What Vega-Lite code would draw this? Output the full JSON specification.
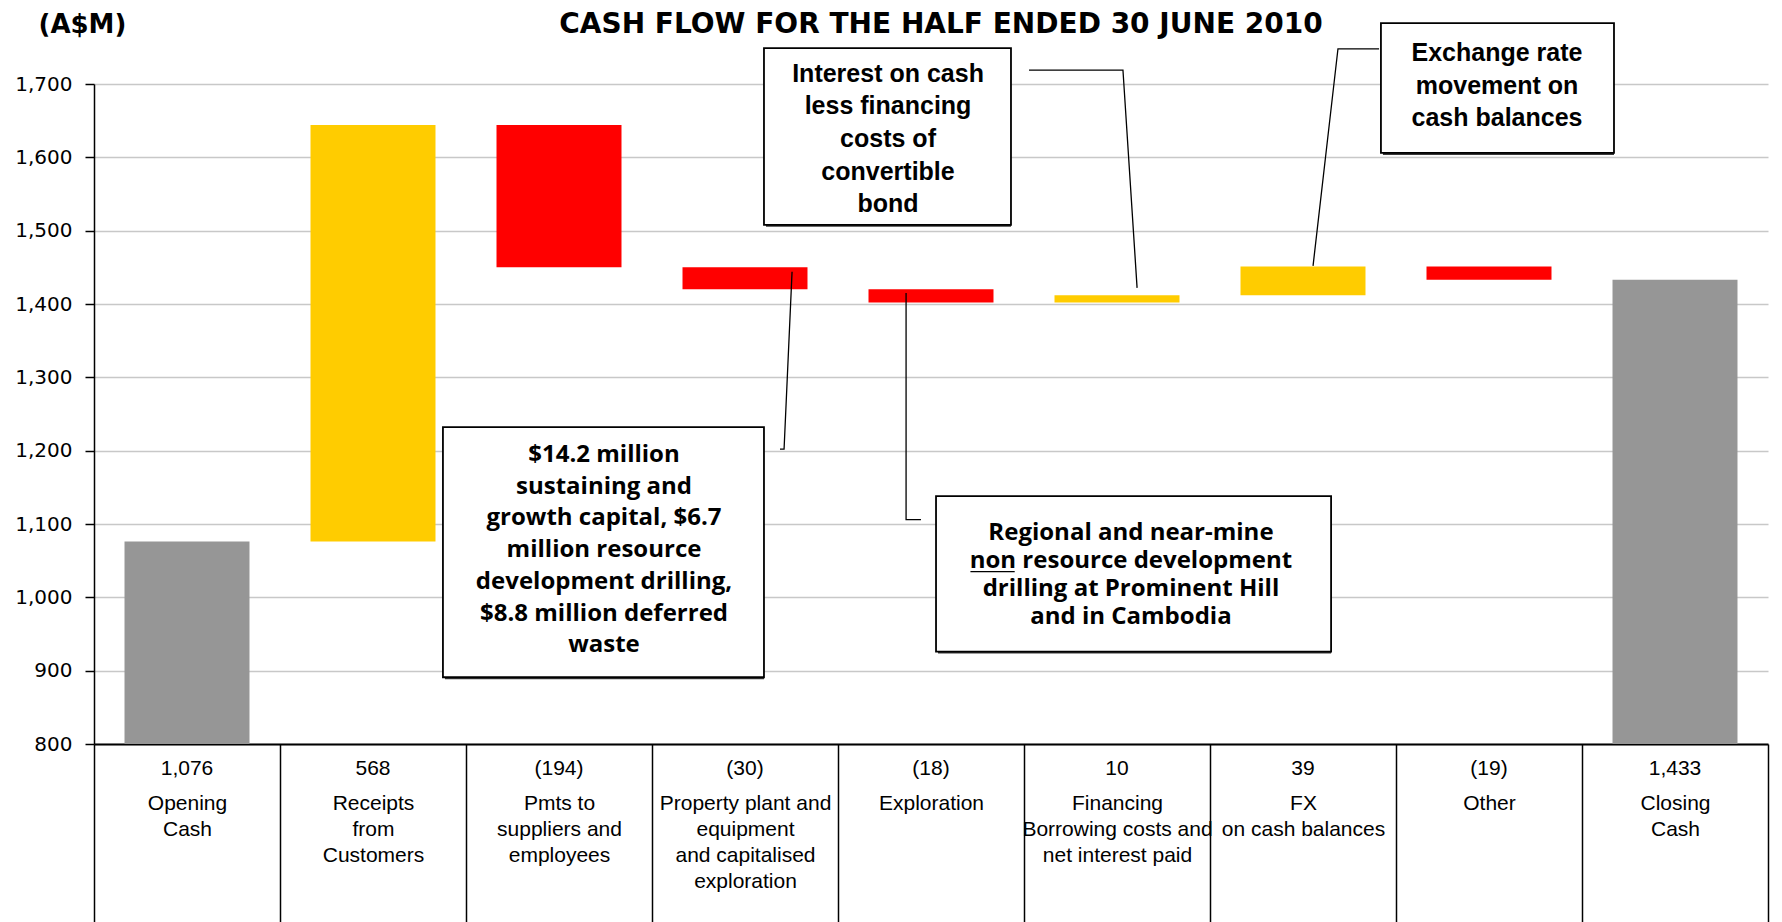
{
  "$schema": "https://vega.github.io/schema/vega-lite/v6.json",
  "width": 1674,
  "height": 660,
  "autosize": {"type": "none"},
  "padding": {"left": 94, "top": 84, "right": 14, "bottom": 178},
  "background": "white",
  "config": {"view": {"stroke": null}, "font": "Liberation Sans"},
  "title": {
    "text": "CASH FLOW FOR THE HALF ENDED 30 JUNE 2010",
    "font": "DejaVu Sans", "fontSize": 28, "fontWeight": "bold", "color": "black",
    "anchor": "middle", "frame": "group", "offset": -28, "dx": 10
  },
  "datasets": {
    "flows": [
      {"cat": "Opening\nCash", "start": 0, "end": 1076, "kind": "total", "shown": "1,076"},
      {"cat": "Receipts\nfrom\nCustomers", "start": 1076, "end": 1644, "kind": "increase", "shown": "568"},
      {"cat": "Pmts to\nsuppliers and\nemployees", "start": 1644, "end": 1450, "kind": "decrease", "shown": "(194)"},
      {"cat": "Property plant and\nequipment\nand capitalised\nexploration", "start": 1450, "end": 1420, "kind": "decrease", "shown": "(30)"},
      {"cat": "Exploration", "start": 1420, "end": 1402, "kind": "decrease", "shown": "(18)"},
      {"cat": "Financing\nBorrowing costs and\nnet interest paid", "start": 1402, "end": 1412, "kind": "increase", "shown": "10"},
      {"cat": "FX\non cash balances", "start": 1412, "end": 1451, "kind": "increase", "shown": "39"},
      {"cat": "Other", "start": 1451, "end": 1433, "kind": "decrease", "shown": "(19)"},
      {"cat": "Closing\nCash", "start": 0, "end": 1433, "kind": "total", "shown": "1,433"}
    ],
    "notes": [
      {"id": "interest", "left": 3.602, "right": 4.930, "bottom": 1508, "top": 1749, "tx": 4.269, "ty": 1714, "note": "Interest on cash\nless financing\ncosts of\nconvertible\nbond"},
      {"id": "fx", "left": 6.919, "right": 8.172, "bottom": 1606, "top": 1783, "tx": 7.543, "ty": 1742, "note": "Exchange rate\nmovement on\ncash balances"},
      {"id": "capex", "left": 1.876, "right": 3.602, "bottom": 891, "top": 1232, "tx": 2.742, "ty": 1194, "note": "$14.2 million\nsustaining and\ngrowth capital, $6.7\nmillion resource\ndevelopment drilling,\n$8.8 million deferred\nwaste"},
      {"id": "regional", "left": 4.527, "right": 6.651, "bottom": 926, "top": 1138, "tx": 5.575, "ty": 1088, "note": "Regional and near-mine\nnon resource development\ndrilling at Prominent Hill\nand in Cambodia"}
    ],
    "leaders": [
      {"id": "interest", "seq": 1, "ux": 5.027, "v": 1719},
      {"id": "interest", "seq": 2, "ux": 5.532, "v": 1719},
      {"id": "interest", "seq": 3, "ux": 5.608, "v": 1422},
      {"id": "fx", "seq": 1, "ux": 6.909, "v": 1748},
      {"id": "fx", "seq": 2, "ux": 6.688, "v": 1748},
      {"id": "fx", "seq": 3, "ux": 6.554, "v": 1452},
      {"id": "capex", "seq": 1, "ux": 3.753, "v": 1444},
      {"id": "capex", "seq": 2, "ux": 3.710, "v": 1202},
      {"id": "capex", "seq": 3, "ux": 3.688, "v": 1202},
      {"id": "regional", "seq": 1, "ux": 4.366, "v": 1415},
      {"id": "regional", "seq": 2, "ux": 4.366, "v": 1106},
      {"id": "regional", "seq": 3, "ux": 4.446, "v": 1106},
      {"id": "underline", "seq": 1, "ux": 4.712, "v": 1035},
      {"id": "underline", "seq": 2, "ux": 4.950, "v": 1035}
    ]
  },
  "resolve": {"scale": {"x": "independent"}, "axis": {"x": "independent"}},
  "layer": [
    {
      "data": {"name": "flows"},
      "mark": {"type": "bar", "width": {"band": 0.672}, "clip": true},
      "encoding": {
        "x": {
          "field": "cat", "type": "nominal", "sort": null,
          "scale": {"paddingInner": 0, "paddingOuter": 0},
          "axis": {
            "title": null,
            "labelExpr": "isValid(datum.value) ? split(datum.value, '\\n') : ''",
            "labelFont": "Liberation Sans", "labelFontSize": 21, "labelLineHeight": 26,
            "labelColor": "black", "labelPadding": -130, "labelAngle": 0,
            "labelOverlap": false, "labelLimit": 0, "labelBound": false, "labelFlush": false,
            "ticks": true, "tickBand": "extent", "tickSize": 178, "tickColor": "black", "tickWidth": 1.5,
            "domain": true, "domainColor": "black", "domainWidth": 2, "grid": false
          }
        },
        "y": {
          "field": "start", "type": "quantitative",
          "scale": {"domain": [800, 1700], "nice": false, "zero": false},
          "axis": {
            "title": "(A$M)", "titleAngle": 0, "titleAlign": "left", "titleBaseline": "middle",
            "titleX": -56, "titleY": -60, "titleFont": "DejaVu Sans", "titleFontSize": 26,
            "titleFontWeight": "bold", "titleColor": "black",
            "values": [800, 900, 1000, 1100, 1200, 1300, 1400, 1500, 1600, 1700],
            "format": ",d",
            "labelFont": "DejaVu Sans", "labelFontSize": 20, "labelColor": "black", "labelPadding": 13,
            "tickColor": "black", "tickSize": 9, "tickWidth": 1.5,
            "domainColor": "black", "domainWidth": 1.5,
            "grid": true, "gridColor": "#c8c8c8", "gridWidth": 1.5
          }
        },
        "y2": {"field": "end"},
        "color": {
          "field": "kind", "type": "nominal",
          "scale": {"domain": ["total", "increase", "decrease"], "range": ["#969696", "#FFCC00", "#FF0000"]},
          "legend": null
        }
      }
    },
    {
      "data": {"name": "flows"},
      "mark": {"type": "text", "font": "Liberation Sans", "fontSize": 21, "color": "black", "baseline": "middle", "dy": 25},
      "encoding": {
        "x": {"field": "cat", "type": "nominal", "sort": null, "scale": {"paddingInner": 0, "paddingOuter": 0}, "axis": null},
        "y": {"datum": 800, "type": "quantitative", "scale": {"domain": [800, 1700], "nice": false, "zero": false}},
        "text": {"field": "shown", "type": "nominal"}
      }
    },
    {
      "data": {"name": "notes"},
      "mark": {"type": "rect", "fill": "#3a3a3a", "xOffset": 2, "yOffset": 2},
      "encoding": {
        "x": {"field": "left", "type": "quantitative", "scale": {"domain": [0, 9], "nice": false, "zero": false}, "axis": null},
        "x2": {"field": "right"},
        "y": {"field": "bottom", "type": "quantitative", "scale": {"domain": [800, 1700], "nice": false, "zero": false}},
        "y2": {"field": "top"}
      }
    },
    {
      "data": {"name": "notes"},
      "mark": {"type": "rect", "fill": "white", "stroke": "black", "strokeWidth": 1.8},
      "encoding": {
        "x": {"field": "left", "type": "quantitative", "scale": {"domain": [0, 9], "nice": false, "zero": false}, "axis": null},
        "x2": {"field": "right"},
        "y": {"field": "bottom", "type": "quantitative", "scale": {"domain": [800, 1700], "nice": false, "zero": false}},
        "y2": {"field": "top"}
      }
    },
    {
      "data": {"name": "leaders"},
      "mark": {"type": "line", "color": "black", "strokeWidth": 1.3},
      "encoding": {
        "x": {"field": "ux", "type": "quantitative", "scale": {"domain": [0, 9], "nice": false, "zero": false}, "axis": null},
        "y": {"field": "v", "type": "quantitative", "scale": {"domain": [800, 1700], "nice": false, "zero": false}},
        "detail": {"field": "id", "type": "nominal"},
        "order": {"field": "seq", "type": "quantitative"}
      }
    },
    {
      "data": {"name": "notes"},
      "transform": [{"filter": {"field": "id", "oneOf": ["interest", "fx"]}}],
      "mark": {"type": "text", "lineBreak": "\n", "font": "Liberation Sans", "fontWeight": "bold", "fontSize": 25, "lineHeight": 32.6, "align": "center", "baseline": "middle", "color": "black"},
      "encoding": {
        "x": {"field": "tx", "type": "quantitative", "scale": {"domain": [0, 9], "nice": false, "zero": false}, "axis": null},
        "y": {"field": "ty", "type": "quantitative", "scale": {"domain": [800, 1700], "nice": false, "zero": false}},
        "text": {"field": "note", "type": "nominal"}
      }
    },
    {
      "data": {"name": "notes"},
      "transform": [{"filter": {"field": "id", "equal": "capex"}}],
      "mark": {"type": "text", "lineBreak": "\n", "font": "Open Sans", "fontWeight": "bold", "fontSize": 24, "lineHeight": 31.7, "align": "center", "baseline": "middle", "color": "black"},
      "encoding": {
        "x": {"field": "tx", "type": "quantitative", "scale": {"domain": [0, 9], "nice": false, "zero": false}, "axis": null},
        "y": {"field": "ty", "type": "quantitative", "scale": {"domain": [800, 1700], "nice": false, "zero": false}},
        "text": {"field": "note", "type": "nominal"}
      }
    },
    {
      "data": {"name": "notes"},
      "transform": [{"filter": {"field": "id", "equal": "regional"}}],
      "mark": {"type": "text", "lineBreak": "\n", "font": "Open Sans", "fontWeight": "bold", "fontSize": 24, "lineHeight": 28, "align": "center", "baseline": "middle", "color": "black"},
      "encoding": {
        "x": {"field": "tx", "type": "quantitative", "scale": {"domain": [0, 9], "nice": false, "zero": false}, "axis": null},
        "y": {"field": "ty", "type": "quantitative", "scale": {"domain": [800, 1700], "nice": false, "zero": false}},
        "text": {"field": "note", "type": "nominal"}
      }
    }
  ]
}
